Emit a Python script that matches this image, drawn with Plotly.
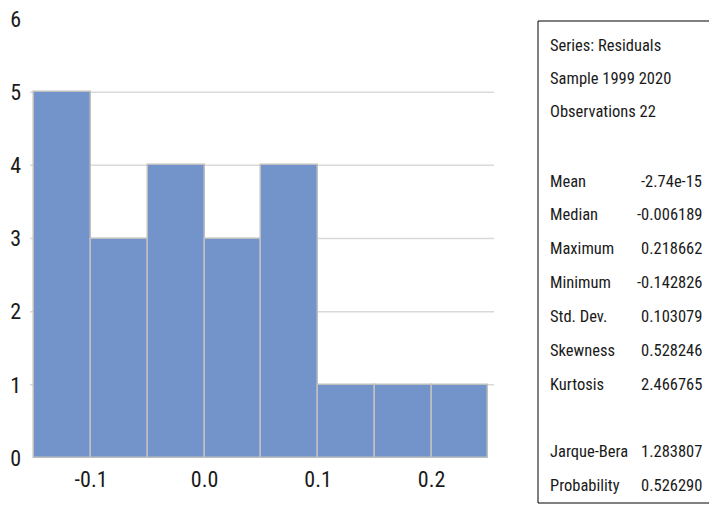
import plotly.graph_objects as go

# Histogram data (bin centers, counts)
bin_centers = [-0.125, -0.075, -0.025, 0.025, 0.075, 0.125, 0.175, 0.225]
counts = [5, 3, 4, 3, 4, 1, 1, 1]
bin_width = 0.05

x_ticks = [-0.1, 0.0, 0.1, 0.2]
x_tick_labels = ["-0.1", "0.0", "0.1", "0.2"]
y_ticks = [0, 1, 2, 3, 4, 5, 6]
grid_levels = [1, 2, 3, 4, 5]

header_lines = ["Series: Residuals", "Sample 1999 2020", "Observations 22"]
stat_names = ["Mean", "Median", "Maximum", "Minimum", "Std. Dev.", "Skewness", "Kurtosis",
              "", "Jarque-Bera", "Probability"]
stat_values = ["-2.74e-15", "-0.006189", "0.218662", "-0.142826", "0.103079", "0.528246",
               "2.466765", "", "1.283807", "0.526290"]

# the page body has an 8px margin; size the figure so it fits the 717x505 window
OFF = 8
W, H = 717 - OFF, 505 - OFF
FONT = "Liberation Sans Narrow, Roboto Condensed, DejaVu Sans Condensed, Liberation Sans, sans-serif"
TXT = "#1a1a1a"

def px(x):
    return (x - OFF) / W

def py(y):
    return 1 - (y - OFF) / H

fig = go.Figure()
fig.add_trace(go.Bar(
    x=bin_centers, y=counts, width=bin_width,
    marker=dict(color="#7394CB", line=dict(color="#BFBFBF", width=1.5)),
    showlegend=False, hoverinfo="x+y",
))

shapes = []
for g in grid_levels:
    shapes.append(dict(type="line", xref="x domain", yref="y", x0=0, x1=1, y0=g, y1=g,
                       line=dict(color="#D9D9D9", width=1.5), layer="below"))
# stats box
shapes.append(dict(type="rect", xref="paper", yref="paper",
                   x0=px(538), x1=px(712), y0=py(503), y1=py(21),
                   line=dict(color="#000000", width=1), fillcolor="rgba(0,0,0,0)"))

annotations = []
line_h = 33.3
y0 = 45
for i, t in enumerate(header_lines):
    annotations.append(dict(text=t, xref="paper", yref="paper", x=px(548), y=py(y0 + i * line_h),
                            xanchor="left", yanchor="middle", showarrow=False,
                            font=dict(family=FONT, size=16.5, color=TXT)))
y1 = y0 + 4 * line_h + 3
for i, (n, v) in enumerate(zip(stat_names, stat_values)):
    if not n:
        continue
    yy = py(y1 + i * (line_h + 0.5))
    annotations.append(dict(text=n, xref="paper", yref="paper", x=px(548), y=yy,
                            xanchor="left", yanchor="middle", showarrow=False,
                            font=dict(family=FONT, size=16.5, color=TXT)))
    annotations.append(dict(text=v, xref="paper", yref="paper", x=px(704), y=yy,
                            xanchor="right", yanchor="middle", showarrow=False,
                            font=dict(family=FONT, size=16.5, color=TXT)))

fig.update_layout(
    width=W, height=H,
    margin=dict(l=0, r=0, t=0, b=0, autoexpand=False),
    paper_bgcolor="white", plot_bgcolor="white",
    bargap=0,
    shapes=shapes, annotations=annotations,
    xaxis=dict(domain=[px(30), px(494)], range=[-0.1538, 0.255], automargin=False,
               tickvals=x_ticks, ticktext=x_tick_labels, showgrid=False, zeroline=False,
               showline=False, ticks="", ticklabelstandoff=6, ticklabeloverflow="allow",
               tickfont=dict(family=FONT, size=22, color=TXT)),
    yaxis=dict(domain=[py(458), py(19)], range=[0, 6], automargin=False,
               tickvals=y_ticks, showgrid=False, zeroline=False, showline=False, ticks="",
               ticklabelstandoff=8, ticklabeloverflow="allow",
               tickfont=dict(family=FONT, size=22, color=TXT)),
    font=dict(family=FONT, color=TXT),
)

fig.write_html("out.html")
